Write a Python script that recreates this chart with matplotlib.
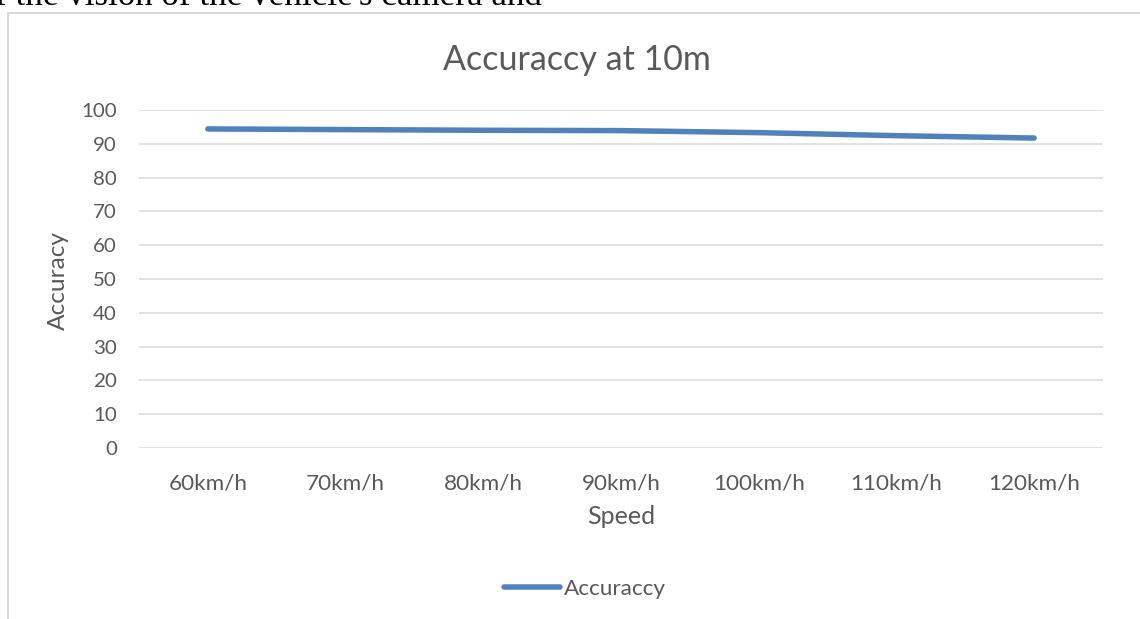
import matplotlib
matplotlib.use("Agg")
import matplotlib.pyplot as plt
from matplotlib.lines import Line2D

# Data
speeds = ["60km/h", "70km/h", "80km/h", "90km/h", "100km/h", "110km/h", "120km/h"]
accuracy = [94.4, 94.2, 94.0, 93.9, 93.3, 92.4, 91.7]
y_ticks = [0, 10, 20, 30, 40, 50, 60, 70, 80, 90, 100]

W, H = 1140, 619
DPI = 100
TXT = "#595959"
GRID = "#d9d9d9"
BLUE = "#4f81bd"
FONT = "Lato"

def px(v):
    return v * 72.0 / DPI

fig = plt.figure(figsize=(W / DPI, H / DPI), dpi=DPI)
fig.patch.set_facecolor("white")

# body text line above the embedded chart
fig.text(-5 / W, 1 - 5 / H, "f the vision of the vehicle's camera and",
         family="Liberation Serif", fontsize=px(35), color="black",
         ha="left", va="baseline")

# chart frame (left and top edges visible)
fig.add_artist(Line2D([7.5 / W, 7.5 / W], [0, 1 - 12.5 / H],
                      transform=fig.transFigure, color=GRID, lw=px(2)))
fig.add_artist(Line2D([7.5 / W, 1.0], [1 - 12.5 / H, 1 - 12.5 / H],
                      transform=fig.transFigure, color=GRID, lw=px(2)))

left, right = 139 / W, 1103 / W
bottom, top = 1 - 448 / H, 1 - 110 / H
ax = fig.add_axes([left, bottom, right - left, top - bottom])

x = list(range(len(speeds)))
line, = ax.plot(x, accuracy, color=BLUE, lw=px(5.5), solid_capstyle="round",
                solid_joinstyle="round", label="Accuraccy", zorder=3)

ax.set_xlim(-0.5, len(speeds) - 0.5)
ax.set_ylim(0, 100)
ax.set_yticks(y_ticks)
ax.set_xticks(x)
ax.set_xticklabels(speeds)
for s in ax.spines.values():
    s.set_visible(False)
ax.grid(axis="y", color=GRID, lw=px(1.5))
ax.set_axisbelow(True)
ax.tick_params(axis="both", length=0, colors=TXT)
ax.tick_params(axis="y", pad=px(22), labelsize=px(20.5))
ax.tick_params(axis="x", pad=px(26), labelsize=px(22.5))
for lab in ax.get_xticklabels() + ax.get_yticklabels():
    lab.set_family(FONT)

fig.text((139 + 1103) / 2 / W, 1 - 517 / H, "Speed", family=FONT,
         fontsize=px(25), color=TXT, ha="center", va="center")
fig.text(58 / W, 1 - 280 / H, "Accuracy", family=FONT, fontsize=px(24.5),
         color=TXT, rotation=90, ha="center", va="center")
fig.text(577 / W, 1 - 70 / H, "Accuraccy at 10m", family=FONT,
         fontsize=px(34), color=TXT, ha="center", va="baseline")

leg = ax.legend(handles=[line], loc="center",
                bbox_to_anchor=(585 / W, 1 - 589 / H),
                bbox_transform=fig.transFigure, frameon=False,
                prop={"family": FONT, "size": px(22.5)},
                handlelength=2.45, handletextpad=0.18)
for t in leg.get_texts():
    t.set_color(TXT)

fig.savefig("out.png", dpi=DPI, facecolor="white")
